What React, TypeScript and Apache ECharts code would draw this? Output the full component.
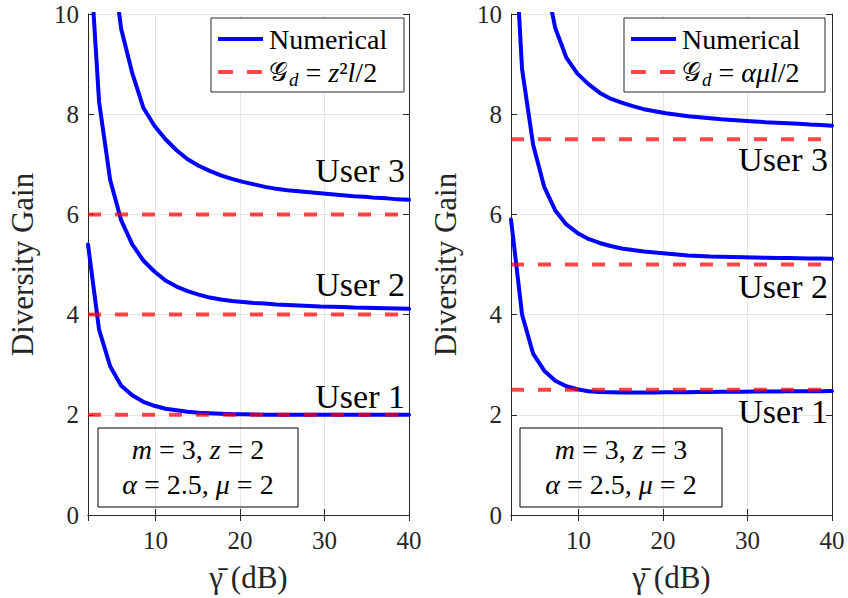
import { useEffect, useRef } from 'react';
import * as echarts from 'echarts';

// ---------- data ----------
const GAMMA_DB = [2, 3.31, 4.62, 5.93, 7.24, 8.55, 9.86, 11.17, 12.48, 13.79, 15.1, 16.41, 17.72, 19.03, 20.34, 21.66, 22.97, 24.28, 25.59, 26.9, 28.21, 29.52, 30.83, 32.14, 33.45, 34.76, 36.07, 37.38, 38.69, 40];

const LEFT_USER1 = [5.4, 3.7, 2.97, 2.58, 2.39, 2.26, 2.18, 2.12, 2.09, 2.06, 2.04, 2.03, 2.02, 2.01, 2.01, 2.005, 2.0, 2.0, 2.0, 2.0, 2.0, 2.0, 2.0, 2.0, 2.0, 2.0, 2.0, 2.0, 2.0, 2.0];
const LEFT_USER2 = [11.8, 8.25, 6.69, 5.88, 5.4, 5.08, 4.86, 4.68, 4.56, 4.47, 4.4, 4.34, 4.3, 4.27, 4.25, 4.23, 4.22, 4.2, 4.19, 4.18, 4.17, 4.16, 4.155, 4.15, 4.14, 4.135, 4.13, 4.125, 4.12, 4.115];
const LEFT_USER3 = [25, 16, 11.4, 9.7, 8.82, 8.13, 7.77, 7.5, 7.28, 7.1, 6.97, 6.87, 6.78, 6.71, 6.65, 6.6, 6.55, 6.51, 6.48, 6.46, 6.44, 6.42, 6.4, 6.38, 6.36, 6.35, 6.33, 6.32, 6.3, 6.29];

const RIGHT_USER1 = [5.9, 4.0, 3.22, 2.88, 2.68, 2.57, 2.51, 2.47, 2.455, 2.45, 2.445, 2.445, 2.445, 2.445, 2.45, 2.45, 2.45, 2.455, 2.455, 2.46, 2.46, 2.46, 2.465, 2.465, 2.465, 2.47, 2.47, 2.47, 2.47, 2.475];
const RIGHT_USER2 = [12.9, 8.9, 7.39, 6.55, 6.08, 5.8, 5.63, 5.51, 5.43, 5.37, 5.32, 5.29, 5.26, 5.24, 5.22, 5.2, 5.18, 5.17, 5.16, 5.155, 5.15, 5.145, 5.14, 5.135, 5.13, 5.13, 5.125, 5.12, 5.12, 5.115];
const RIGHT_USER3 = [25, 17, 13, 10.8, 9.72, 9.13, 8.81, 8.6, 8.43, 8.31, 8.23, 8.16, 8.1, 8.06, 8.02, 7.99, 7.96, 7.94, 7.92, 7.9, 7.885, 7.87, 7.855, 7.84, 7.83, 7.82, 7.81, 7.795, 7.785, 7.77];

const LEFT_ASYMPTOTES = [2, 4, 6];
const RIGHT_ASYMPTOTES = [2.5, 5, 7.5];

const X_MIN = 2;
const X_MAX = 40;
const Y_MIN = 0;
const Y_MAX = 10;
const Y_STEP = 2;

const USER_LABELS = ['User 1', 'User 2', 'User 3'];
const LEGEND_NUMERICAL = 'Numerical';
const X_TITLE = 'γ̄ (dB)';
const Y_TITLE = 'Diversity Gain';

// ---------- styles ----------
const SERIF = 'serif';
const INK = '#262626';
const BLUE = '#0000ff';
const RED = 'rgba(255, 0, 0, 0.72)';
const GRID_LINE = '#e6e6e6';
const DASH = [13, 14];

const GRIDS = [
  { left: 88, right: 439, top: 14, bottom: 82 },
  { left: 511, right: 16, top: 14, bottom: 82 },
];

function pairs(ys: number[]) {
  return GAMMA_DB.map((x, i) => [x, ys[i]]);
}

function xAxes(gridIndex: number) {
  return [
    {
      type: 'value',
      gridIndex,
      min: X_MIN,
      max: X_MAX,
      splitNumber: 4,
      position: 'bottom',
      axisLine: { show: true, lineStyle: { color: INK, width: 1 } },
      axisTick: { show: true, inside: true, length: 6, lineStyle: { color: INK } },
      axisLabel: { show: true, showMinLabel: false, color: INK, fontFamily: SERIF, fontSize: 25, margin: 13 },
      splitLine: { show: true, lineStyle: { color: GRID_LINE, width: 1 } },
      name: X_TITLE,
      nameLocation: 'middle',
      nameGap: 47,
      nameTextStyle: { color: INK, fontFamily: SERIF, fontSize: 31 },
    },
    {
      type: 'value',
      gridIndex,
      min: X_MIN,
      max: X_MAX,
      splitNumber: 4,
      position: 'top',
      axisLine: { show: true, lineStyle: { color: INK, width: 1 } },
      axisTick: { show: true, inside: true, length: 6, lineStyle: { color: INK } },
      axisLabel: { show: false },
      splitLine: { show: false },
    },
  ];
}

function yAxes(gridIndex: number) {
  return [
    {
      type: 'value',
      gridIndex,
      min: Y_MIN,
      max: Y_MAX,
      interval: Y_STEP,
      position: 'left',
      axisLine: { show: true, lineStyle: { color: INK, width: 1 } },
      axisTick: { show: true, inside: true, length: 6, lineStyle: { color: INK } },
      axisLabel: { show: true, color: INK, fontFamily: SERIF, fontSize: 25, margin: 9 },
      splitLine: { show: true, lineStyle: { color: GRID_LINE, width: 1 } },
      name: Y_TITLE,
      nameLocation: 'middle',
      nameGap: 50,
      nameTextStyle: { color: INK, fontFamily: SERIF, fontSize: 31 },
    },
    {
      type: 'value',
      gridIndex,
      min: Y_MIN,
      max: Y_MAX,
      interval: Y_STEP,
      position: 'right',
      axisLine: { show: true, lineStyle: { color: INK, width: 1 } },
      axisTick: { show: true, inside: true, length: 6, lineStyle: { color: INK } },
      axisLabel: { show: false },
      splitLine: { show: false },
    },
  ];
}

function panelSeries(panel: number, users: number[][], asymptotes: number[]) {
  const xAxisIndex = panel * 2;
  const yAxisIndex = panel * 2;
  const blue = users.map((ys, i) => ({
    type: 'line',
    name: LEGEND_NUMERICAL + ' ' + USER_LABELS[i],
    xAxisIndex,
    yAxisIndex,
    data: pairs(ys),
    showSymbol: false,
    symbol: 'none',
    clip: true,
    z: 3,
    lineStyle: { color: BLUE, width: 4, cap: 'round', join: 'round' },
  }));
  const red = asymptotes.map((v, i) => ({
    type: 'line',
    name: 'Gd ' + USER_LABELS[i],
    xAxisIndex,
    yAxisIndex,
    data: [[X_MIN, v], [X_MAX, v]],
    showSymbol: false,
    symbol: 'none',
    z: 4,
    lineStyle: { color: RED, width: 4, type: DASH },
  }));
  return [...blue, ...red];
}

const RICH_SIZE = 28;
function richStyles(size: number) {
  return {
    o: { fontFamily: SERIF, fontSize: size, fill: '#000', lineHeight: size + 6, verticalAlign: 'middle' },
    i: { fontFamily: SERIF, fontSize: size, fontStyle: 'italic', fill: '#000', lineHeight: size + 6, verticalAlign: 'middle' },
    g: { fontFamily: SERIF, fontSize: size - 2, fill: '#000', lineHeight: size + 6, verticalAlign: 'middle' },
    d: { fontFamily: SERIF, fontSize: Math.round(size * 0.68), fontStyle: 'italic', fill: '#000', lineHeight: Math.round(size * 0.68), verticalAlign: 'bottom', padding: [0, 0, 0, 1] },
  };
}

function legendGraphic(x0: number, y0: number, w: number, h: number, formula: string) {
  return {
    type: 'group',
    z: 100,
    children: [
      { type: 'rect', shape: { x: x0, y: y0, width: w, height: h }, style: { fill: '#fff', stroke: INK, lineWidth: 1 }, z: 100 },
      { type: 'line', shape: { x1: x0 + 7, y1: y0 + 21, x2: x0 + 52, y2: y0 + 21 }, style: { stroke: BLUE, lineWidth: 4 }, z: 101 },
      { type: 'line', shape: { x1: x0 + 7, y1: y0 + 54, x2: x0 + 52, y2: y0 + 54 }, style: { stroke: RED, lineWidth: 4, lineDash: [15, 14] }, z: 101 },
      {
        type: 'text', z: 101, x: x0 + 58, y: y0 + 21,
        style: { text: LEGEND_NUMERICAL, fontFamily: SERIF, fontSize: RICH_SIZE, fill: '#000', align: 'left', verticalAlign: 'middle' },
      },
      {
        type: 'text', z: 101, x: x0 + 58, y: y0 + 54,
        style: { text: formula, rich: richStyles(RICH_SIZE), fontFamily: SERIF, fontSize: RICH_SIZE, align: 'left', verticalAlign: 'middle' },
      },
    ],
  };
}

function annotationGraphic(x0: number, y0: number, w: number, h: number, line1: string, line2: string) {
  const cx = x0 + w / 2;
  return {
    type: 'group',
    z: 90,
    children: [
      { type: 'rect', shape: { x: x0, y: y0, width: w, height: h }, style: { fill: 'none', stroke: '#000', lineWidth: 1 }, z: 90 },
      { type: 'text', z: 91, x: cx, y: y0 + 21, style: { text: line1, rich: richStyles(RICH_SIZE), fontFamily: SERIF, fontSize: RICH_SIZE, align: 'center', verticalAlign: 'middle' } },
      { type: 'text', z: 91, x: cx, y: y0 + 56, style: { text: line2, rich: richStyles(RICH_SIZE), fontFamily: SERIF, fontSize: RICH_SIZE, align: 'center', verticalAlign: 'middle' } },
    ],
  };
}

function userLabel(text: string, x: number, y: number) {
  return {
    type: 'text', z: 80, x, y,
    style: { text, fontFamily: SERIF, fontSize: 34, fill: '#000', align: 'right', verticalAlign: 'middle' },
  };
}

const option = {
  animation: false,
  backgroundColor: '#ffffff',
  textStyle: { fontFamily: SERIF },
  grid: GRIDS.map((g) => ({ ...g, containLabel: false })),
  xAxis: [...xAxes(0), ...xAxes(1)],
  yAxis: [...yAxes(0), ...yAxes(1)],
  series: [
    ...panelSeries(0, [LEFT_USER1, LEFT_USER2, LEFT_USER3], LEFT_ASYMPTOTES),
    ...panelSeries(1, [RIGHT_USER1, RIGHT_USER2, RIGHT_USER3], RIGHT_ASYMPTOTES),
  ],
  graphic: [
    legendGraphic(211, 18, 193, 74, '{g|𝒢}{d|d}{o| = }{i|z}{o|²}{i|l}{o|/2}'),
    legendGraphic(624, 18, 201, 74, '{g|𝒢}{d|d}{o| = }{i|αμl}{o|/2}'),
    annotationGraphic(98, 428, 200, 79, '{i|m}{o| = 3, }{i|z}{o| = 2}', '{i|α}{o| = 2.5, }{i|μ}{o| = 2}'),
    annotationGraphic(520, 428, 202, 79, '{i|m}{o| = 3, }{i|z}{o| = 3}', '{i|α}{o| = 2.5, }{i|μ}{o| = 2}'),
    userLabel(USER_LABELS[2], 405, 170),
    userLabel(USER_LABELS[1], 405, 284),
    userLabel(USER_LABELS[0], 405, 396),
    userLabel(USER_LABELS[2], 828, 159),
    userLabel(USER_LABELS[1], 828, 286),
    userLabel(USER_LABELS[0], 828, 411),
  ],
};

export default function App() {
  const ref = useRef<HTMLDivElement>(null);
  useEffect(() => {
    if (!ref.current) return;
    const chart = echarts.init(ref.current, undefined, { renderer: 'svg' });
    chart.setOption(option as any);
    return () => chart.dispose();
  }, []);
  return <div ref={ref} style={{ position: 'absolute', left: 0, top: 0, width: 848, height: 598, fontFamily: 'serif' }} />;
}
